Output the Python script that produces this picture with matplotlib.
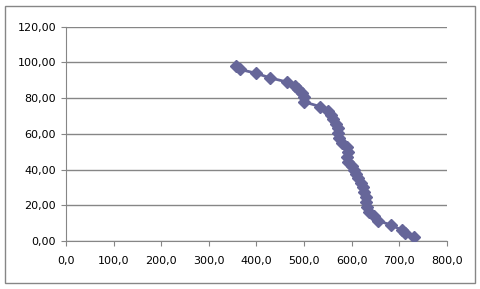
import matplotlib
matplotlib.use('Agg')
from matplotlib import pyplot as plt
from matplotlib.patches import Rectangle
from matplotlib.ticker import FuncFormatter, MultipleLocator

# data
x_vals = [357, 366, 399, 429, 464, 481, 488, 495, 500, 500,
          534, 551, 557, 560, 567, 571, 572, 574, 579, 590,
          592, 591, 593, 600, 604, 609, 614, 619, 623, 626,
          630, 630, 632, 637, 647, 656, 682, 705, 712, 732]
y_vals = [98.2, 96.0, 93.9, 91.3, 89.0, 86.8, 84.9, 83.0, 80.8, 77.9,
          75.2, 73.0, 70.6, 68.2, 65.5, 63.0, 60.2, 57.4, 55.0, 52.8,
          50.0, 47.2, 44.4, 42.1, 39.8, 37.5, 35.1, 32.7, 30.1, 27.7,
          24.9, 22.1, 19.3, 16.4, 14.0, 11.4, 9.0, 6.2, 4.3, 2.1]

grey = '#868686'
fig = plt.figure(figsize=(4.81, 2.89), dpi=100)
ax = fig.add_axes([0.137, 0.166, 0.792, 0.742])

ax.plot(x_vals, y_vals, color='#666699', lw=2, marker='D', markersize=6.5, zorder=3)

ax.set_xlim(0, 800)
ax.set_ylim(0, 120)
ax.xaxis.set_major_locator(MultipleLocator(100))
ax.yaxis.set_major_locator(MultipleLocator(20))
ax.xaxis.set_major_formatter(FuncFormatter(lambda v, p: ('%.1f' % v).replace('.', ',')))
ax.yaxis.set_major_formatter(FuncFormatter(lambda v, p: ('%.2f' % v).replace('.', ',')))

ax.grid(axis='y', color=grey, lw=1)
ax.set_axisbelow(True)
for s in ['top', 'right']:
    ax.spines[s].set_visible(False)
for s in ['left', 'bottom']:
    ax.spines[s].set_color(grey)
ax.tick_params(colors=grey, labelcolor='black', labelsize=8, length=3.5, direction='out')
ax.tick_params(axis='x', pad=7)

# rahmen um das ganze bild
fig.patches.append(Rectangle((5 / 481, 6 / 289), 470 / 481, 277 / 289, transform=fig.transFigure,
                             fill=False, edgecolor=grey, lw=1))

fig.savefig('out.png', dpi=100)
